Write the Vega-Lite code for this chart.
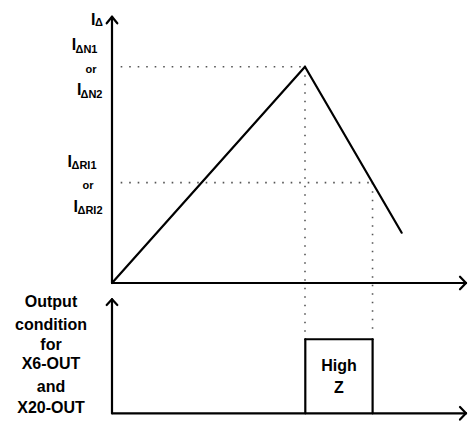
{
  "$schema": "https://vega.github.io/schema/vega-lite/v6.json",
  "width": 472,
  "height": 430,
  "padding": 0,
  "autosize": {"type": "fit", "contains": "padding"},
  "background": "white",
  "config": {"view": {"stroke": null}, "text": {"font": "Liberation Sans", "color": "black"}},
  "datasets": {
    "solid": [
      {"x": 0, "y": 0, "x2": 0, "y2": 1.231},
      {"x": 0, "y": 0, "x2": 1.834, "y2": 0},
      {"x": 0, "y": -0.6024, "x2": 0, "y2": -0.0754},
      {"x": 0, "y": -0.6024, "x2": 1.834, "y2": -0.6024},
      {"x": -0.0275, "y": 1.2007, "x2": 0, "y2": 1.231},
      {"x": 0.0275, "y": 1.2007, "x2": 0, "y2": 1.231},
      {"x": -0.0275, "y": -0.1017, "x2": 0, "y2": -0.0754},
      {"x": 0.0275, "y": -0.1017, "x2": 0, "y2": -0.0754},
      {"x": 1.8031, "y": 0.0291, "x2": 1.8342, "y2": 0},
      {"x": 1.8031, "y": -0.0291, "x2": 1.8342, "y2": 0},
      {"x": 1.8031, "y": -0.5733, "x2": 1.8342, "y2": -0.6024},
      {"x": 1.8031, "y": -0.6315, "x2": 1.8342, "y2": -0.6024},
      {"x": 0, "y": 0, "x2": 1, "y2": 1},
      {"x": 1, "y": 1, "x2": 1.501, "y2": 0.2325},
      {"x": 1.0016, "y": -0.6024, "x2": 1.0016, "y2": -0.26},
      {"x": 1.0016, "y": -0.26, "x2": 1.3503, "y2": -0.26},
      {"x": 1.3503, "y": -0.26, "x2": 1.3503, "y2": -0.6024}
    ],
    "dotted": [
      {"x": 0.045, "y": 1, "x2": 1, "y2": 1},
      {"x": 0.045, "y": 0.464, "x2": 1.35, "y2": 0.464},
      {"x": 1, "y": 1, "x2": 1, "y2": -0.26},
      {"x": 1.35, "y": 0.464, "x2": 1.35, "y2": -0.225}
    ],
    "bigI": [
      {"x": -0.1088, "y": 1.1928, "t": "I"},
      {"x": -0.2088, "y": 1.0772, "t": "I"},
      {"x": -0.1813, "y": 0.8692, "t": "I"},
      {"x": -0.2306, "y": 0.5363, "t": "I"},
      {"x": -0.1995, "y": 0.3282, "t": "I"}
    ],
    "subs": [
      {"x": -0.0881, "y": 1.1905, "t": "Δ"},
      {"x": -0.1891, "y": 1.0633, "t": "ΔN1"},
      {"x": -0.1632, "y": 0.8576, "t": "ΔN2"},
      {"x": -0.2098, "y": 0.5293, "t": "ΔRI1"},
      {"x": -0.1788, "y": 0.3190, "t": "ΔRI2"}
    ],
    "ors": [
      {"x": -0.1088, "y": 0.9709, "t": "or"},
      {"x": -0.1244, "y": 0.4346, "t": "or"}
    ],
    "side": [
      {"x": -0.3161, "y": -0.1110, "t": "Output"},
      {"x": -0.3161, "y": -0.2173, "t": "condition"},
      {"x": -0.3161, "y": -0.3098, "t": "for"},
      {"x": -0.3161, "y": -0.3976, "t": "X6-OUT"},
      {"x": -0.3161, "y": -0.5039, "t": "and"},
      {"x": -0.3161, "y": -0.6010, "t": "X20-OUT"},
      {"x": 1.176, "y": -0.4068, "t": "High"},
      {"x": 1.176, "y": -0.5085, "t": "Z"}
    ]
  },
  "encoding": {
    "x": {"field": "x", "type": "quantitative", "axis": null, "scale": {"domain": [-0.5803, 1.8653], "nice": false, "zero": false}},
    "y": {"field": "y", "type": "quantitative", "axis": null, "scale": {"domain": [-0.6796, 1.3084], "nice": false, "zero": false}}
  },
  "layer": [
    {
      "data": {"name": "dotted"},
      "mark": {"type": "rule", "color": "#555555", "strokeWidth": 1.6, "strokeDash": [1.6, 6.9], "strokeCap": "butt"},
      "encoding": {"x2": {"field": "x2"}, "y2": {"field": "y2"}}
    },
    {
      "data": {"name": "solid"},
      "mark": {"type": "rule", "color": "black", "strokeWidth": 2.2, "strokeCap": "round"},
      "encoding": {"x2": {"field": "x2"}, "y2": {"field": "y2"}}
    },
    {
      "data": {"name": "bigI"},
      "mark": {"type": "text", "align": "left", "baseline": "alphabetic", "fontSize": 16, "fontWeight": "bold"},
      "encoding": {"text": {"field": "t"}}
    },
    {
      "data": {"name": "subs"},
      "mark": {"type": "text", "align": "left", "baseline": "alphabetic", "fontSize": 11, "fontWeight": "bold"},
      "encoding": {"text": {"field": "t"}}
    },
    {
      "data": {"name": "ors"},
      "mark": {"type": "text", "align": "center", "baseline": "alphabetic", "fontSize": 11, "fontWeight": "bold"},
      "encoding": {"text": {"field": "t"}}
    },
    {
      "data": {"name": "side"},
      "mark": {"type": "text", "align": "center", "baseline": "alphabetic", "fontSize": 16, "fontWeight": "bold"},
      "encoding": {"text": {"field": "t"}}
    }
  ]
}
